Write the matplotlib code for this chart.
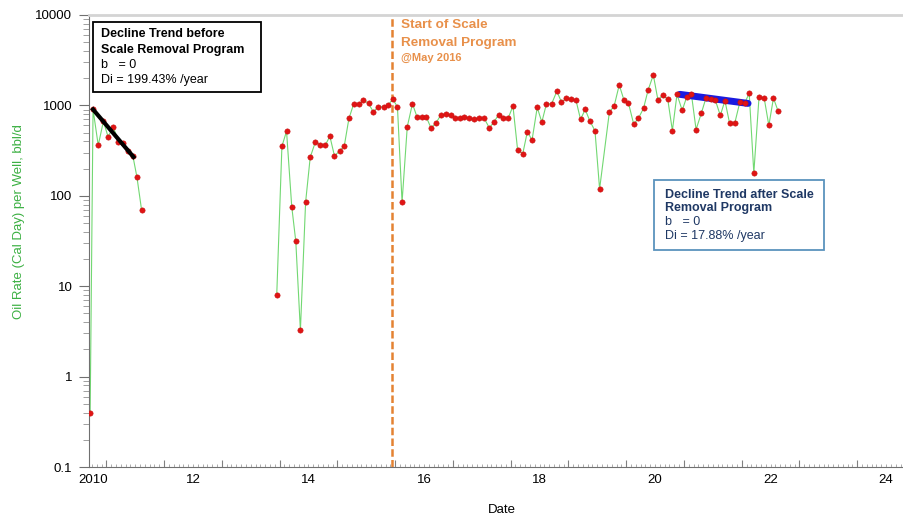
import numpy as np
import matplotlib.pyplot as plt
from matplotlib.ticker import FixedLocator, LogLocator, FuncFormatter, NullLocator
from matplotlib.patches import Rectangle

plt.rcParams['font.family'] = ['Liberation Sans', 'DejaVu Sans']

# monthly oil rate per well (decimal year, bbl/d)
early_years = [2010.22, 2010.27, 2010.36, 2010.45, 2010.53, 2010.62, 2010.71, 2010.79,
               2010.88, 2010.96, 2011.03, 2011.11]
early_rates = [0.40, 903, 362, 670, 449, 580, 398, 385, 316, 275, 161, 70]

late_years = [2013.45, 2013.54, 2013.62, 2013.71, 2013.78, 2013.86, 2013.95, 2014.03,
              2014.12, 2014.20, 2014.29, 2014.37, 2014.45, 2014.54, 2014.62, 2014.70,
              2014.78, 2014.87, 2014.95, 2015.04, 2015.12, 2015.21, 2015.30, 2015.37,
              2015.46, 2015.54, 2015.62, 2015.71, 2015.80, 2015.88, 2015.96, 2016.04,
              2016.12, 2016.21, 2016.29, 2016.38, 2016.46, 2016.54, 2016.62, 2016.70,
              2016.78, 2016.87, 2016.95, 2017.04, 2017.13, 2017.21, 2017.29, 2017.37,
              2017.46, 2017.54, 2017.62, 2017.71, 2017.79, 2017.87, 2017.96, 2018.04,
              2018.12, 2018.21, 2018.30, 2018.38, 2018.46, 2018.55, 2018.63, 2018.71,
              2018.79, 2018.87, 2018.96, 2019.04, 2019.21, 2019.29, 2019.38, 2019.46,
              2019.54, 2019.63, 2019.71, 2019.80, 2019.88, 2019.97, 2020.05, 2020.13,
              2020.22, 2020.30, 2020.38, 2020.47, 2020.55, 2020.63, 2020.71, 2020.80,
              2020.88, 2020.96, 2021.04, 2021.13, 2021.21, 2021.29, 2021.38, 2021.47,
              2021.55, 2021.63, 2021.71, 2021.80, 2021.89, 2021.97, 2022.05, 2022.13]
late_rates = [7.9, 353, 518, 76, 31.4, 3.24, 85, 267,
              395, 369, 362, 456, 276, 314, 357, 717,
              1026, 1026, 1146, 1052, 851, 966, 966, 1000,
              1166, 966, 85, 580, 1044, 741, 741, 741,
              565, 643, 781, 801, 781, 730, 730, 748,
              717, 711, 723, 723, 565, 653, 788, 730,
              730, 983, 324, 293, 514, 412, 950, 653,
              1044, 1044, 1432, 1088, 1197, 1166, 1146, 699,
              903, 676, 523, 119, 851, 975, 1682, 1156,
              1061, 621, 717, 926, 1479, 2172, 1146, 1303,
              1166, 527, 1325, 880, 1250, 1325, 541, 815,
              1200, 1180, 1160, 775, 1130, 636, 636, 1100,
              1060, 1358, 179, 1237, 1197, 600, 1206, 864]

# decline trend end points
trend_before_years = [2010.27, 2010.97]
trend_before_rates = [903, 269]
trend_after_years = [2020.43, 2021.61]
trend_after_rates = [1325, 1052]

program_start = 2015.45

year_labels = ['2010', '12', '14', '16', '18', '20', '22', '24']
year_label_pos = [2010.27, 2012, 2014, 2016, 2018, 2020, 2022, 2024]

W, H = 904, 518
fig = plt.figure(figsize=(W / 100, H / 100), dpi=100)
ax = fig.add_axes([89 / W, 1 - 467 / H, (W - 89) / W, (467 - 15) / H])

ax.set_yscale('log')
ax.set_ylim(0.1, 10000)
ax.set_xlim(2010.2, 2024.31)

green = '#72d872'
red = '#e01414'
ax.plot(early_years, early_rates, color=green, lw=0.8, zorder=2)
ax.plot(late_years, late_rates, color=green, lw=0.8, zorder=2)
ax.plot(trend_after_years, trend_after_rates, color='#1a1ae0', lw=5,
        solid_capstyle='round', zorder=3)
ax.plot(early_years, early_rates, 'o', color=red, ms=3.8, mec='#c81010', mew=0.4, zorder=4)
ax.plot(late_years, late_rates, 'o', color=red, ms=3.8, mec='#c81010', mew=0.4, zorder=4)
ax.plot(trend_before_years, trend_before_rates, color='black', lw=3, zorder=5)

ax.axvline(program_start, color='#e48232', lw=1.8, dashes=(3, 1.3), zorder=1)

# spines
ax.spines['right'].set_visible(False)
ax.spines['top'].set_color('#d4d4d4')
ax.spines['top'].set_linewidth(2)
for s in ['left', 'bottom']:
    ax.spines[s].set_color('#707070')
    ax.spines[s].set_linewidth(0.8)

# y ticks
ax.yaxis.set_major_locator(LogLocator(base=10))
ax.yaxis.set_minor_locator(LogLocator(base=10, subs=np.arange(2, 10)))
ax.yaxis.set_major_formatter(FuncFormatter(lambda v, p: '%g' % v))
ax.tick_params(axis='y', which='major', direction='out', length=7, color='#707070',
               labelsize=9.5, pad=5)
ax.tick_params(axis='y', which='minor', direction='out', length=4, color='#909090')

# x ticks: year marks at mid points, monthly minor marks, labels on a second axis
ax.xaxis.set_major_locator(FixedLocator(np.arange(2010.5, 2024.4, 1)))
ax.xaxis.set_minor_locator(FixedLocator(np.arange(2010.25, 2024.31, 1 / 12)))
ax.tick_params(axis='x', which='major', direction='in', length=5, color='#808080',
               labelbottom=False)
ax.tick_params(axis='x', which='minor', direction='in', length=2, color='#a0a0a0')

sec = ax.secondary_xaxis('bottom')
sec.set_xticks(year_label_pos, year_labels)
sec.xaxis.set_minor_locator(NullLocator())
sec.tick_params(length=0, labelsize=9.5, pad=5)
sec.spines['bottom'].set_visible(False)

fig.text(502 / W, 1 - 510 / H, 'Date', ha='center', va='center', fontsize=9.5)
fig.text(19 / W, 1 - 222 / H, 'Oil Rate (Cal Day) per Well, bbl/d', rotation=90,
         ha='center', va='center', fontsize=9.5, color='#3cb043')

# annotation for program start
orange = '#e8904a'
fig.text(401 / W, 1 - 25 / H, 'Start of Scale', fontsize=9.7, fontweight='bold',
         color=orange, va='center')
fig.text(401 / W, 1 - 42.7 / H, 'Removal Program', fontsize=9.7, fontweight='bold',
         color=orange, va='center')
fig.text(401 / W, 1 - 58.3 / H, '@May 2016', fontsize=8, fontweight='bold',
         color=orange, va='center')

# trend boxes
fig.add_artist(Rectangle((93 / W, 1 - 92 / H), (261 - 93) / W, (92 - 22) / H,
                         transform=fig.transFigure, fc='white', ec='black', lw=1.3,
                         zorder=10))
box1 = [('Decline Trend before', 'bold', 34.3), ('Scale Removal Program', 'bold', 50),
        ('b   = 0', 'normal', 64.5), ('Di = 199.43% /year', 'normal', 80)]
for txt, wt, y in box1:
    fig.text(101 / W, 1 - y / H, txt, fontsize=9, fontweight=wt, color='black',
             va='center', zorder=11)

navy = '#1f3864'
fig.add_artist(Rectangle((654 / W, 1 - 250 / H), (824 - 654) / W, (250 - 180) / H,
                         transform=fig.transFigure, fc='white', ec='#5b93bd', lw=1.3,
                         zorder=10))
box2 = [('Decline Trend after Scale', 'bold', 194.5), ('Removal Program', 'bold', 208),
        ('b   = 0', 'normal', 222), ('Di = 17.88% /year', 'normal', 236)]
for txt, wt, y in box2:
    fig.text(665 / W, 1 - y / H, txt, fontsize=9, fontweight=wt, color=navy,
             va='center', zorder=11)

fig.savefig('out.png', dpi=100)
